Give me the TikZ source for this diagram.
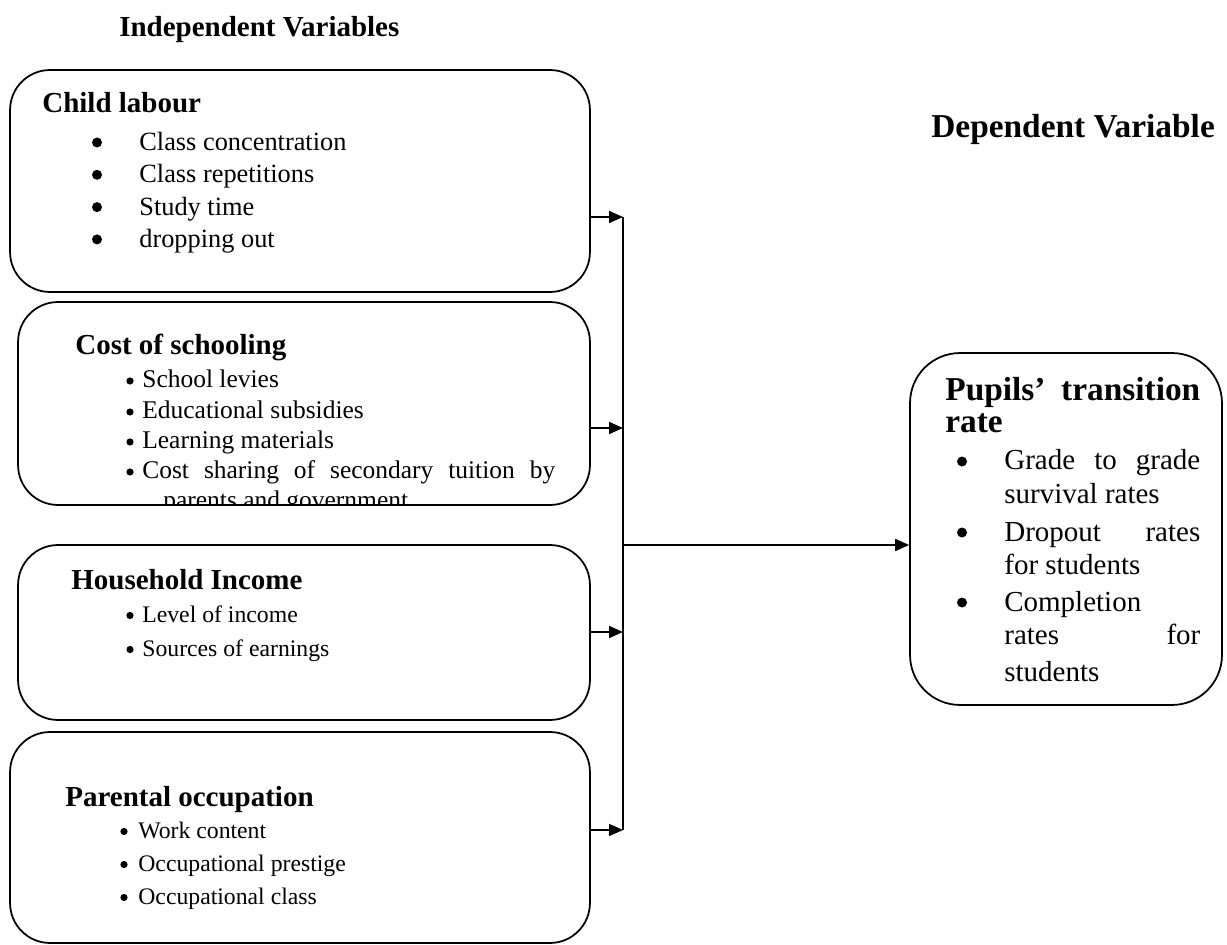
\documentclass[tikz,border=0pt]{standalone}
\usepackage{fontspec}
\setmainfont{Liberation Serif}
\usetikzlibrary{arrows.meta}

\begin{document}
\begin{tikzpicture}
[
  x=0.02cm,
  y=-0.02cm,
  varbox/.style={draw,line width=1pt,rounded corners=0.8cm,inner sep=0},
  title/.style={anchor=base west,inner sep=0,font=\fontsize{16.5}{20}\selectfont\bfseries},
  bigtitle/.style={anchor=base west,inner sep=0,font=\fontsize{19}{22}\selectfont\bfseries},
  head/.style={anchor=base west,inner sep=0,font=\fontsize{16.5}{19}\selectfont\bfseries},
  txt/.style={anchor=base west,inner sep=0,font=\fontsize{15}{18}\selectfont},
  midtxt/.style={anchor=base west,inner sep=0,font=\fontsize{14.5}{18}\selectfont},
  smalltxt/.style={anchor=base west,inner sep=0,font=\fontsize{13.5}{16}\selectfont},
  bigtxt/.style={anchor=base west,inner sep=0,font=\fontsize{16.5}{20}\selectfont},
  bigdot/.style={fill=black},
  feed/.style={line width=1pt,-{Triangle[length=0.28cm,width=0.24cm]}}
]

\useasboundingbox (0,0) rectangle (1227,945);

% titles
\node[title] (indep) at (119,37) {Independent Variables};
\node[bigtitle] (dep) at (931,138) {Dependent Variable};

% boxes
\node[varbox,minimum width=11.6cm,minimum height=4.44cm] (labour) at (300,181) {};
\node[varbox,minimum width=11.44cm,minimum height=4.06cm] (cost) at (304,403.5) {};
\node[varbox,minimum width=11.44cm,minimum height=3.5cm] (income) at (304,632.5) {};
\node[varbox,minimum width=11.6cm,minimum height=4.22cm] (parent) at (300,837.5) {};
\node[varbox,rounded corners=1cm,minimum width=6.24cm,minimum height=7.04cm] (rate) at (1066,529) {};

% child labour
\node[head] (labourhead) at (42,113) {Child labour};
\foreach \t [count=\i] in {Class concentration,Class repetitions,Study time,dropping out}
{
  \node[txt] (labour\i) at (139,{150.5+32.3*(\i-1)}) {\t};
  \fill[bigdot] ([xshift=-0.84cm,yshift=0.16cm]labour\i.base west) circle[radius=0.1cm];
}

% cost of schooling
\node[head] (costhead) at (75,355) {Cost of schooling};
\node[midtxt] (cost1) at (142,388) {School levies};
\node[midtxt] (cost2) at (142,419) {Educational subsidies};
\node[midtxt] (cost3) at (142,449) {Learning materials};
\node[midtxt] (cost4) at (142,479) {\makebox[8.26cm][s]{Cost sharing of secondary tuition by}};
\foreach \i in {1,...,4}
  \fill[bigdot] ([xshift=-0.24cm,yshift=0.14cm]cost\i.base west) circle[radius=0.072cm];
\begin{scope}
  \clip[rounded corners=0.8cm] (cost.south west) rectangle (cost.north east);
  \node[midtxt] (cost5) at (163,509) {parents and government};
\end{scope}

% household income
\node[head] (incomehead) at (71,589) {Household Income};
\foreach \t [count=\i] in {Level of income,Sources of earnings}
{
  \node[smalltxt] (income\i) at (142,{622+34*(\i-1)}) {\t};
  \fill[bigdot] ([xshift=-0.24cm,yshift=0.13cm]income\i.base west) circle[radius=0.072cm];
}

% parental occupation
\node[head] (parenthead) at (65,806) {Parental occupation};
\foreach \t [count=\i] in {Work content,Occupational prestige,Occupational class}
{
  \node[smalltxt] (parent\i) at (138,{838+33*(\i-1)}) {\t};
  \fill[bigdot] ([xshift=-0.28cm,yshift=0.13cm]parent\i.base west) circle[radius=0.072cm];
}

% transition rate
\node[bigtitle] (ratehead) at (945,401) {\makebox[5.1cm][s]{Pupils’ transition}};
\node[bigtitle] (ratehead2) at (945,433) {rate};
\node[bigtxt] (rate1) at (1004,470) {\makebox[3.92cm][s]{Grade to grade}};
\node[bigtxt] (rate1b) at (1004,503) {survival rates};
\node[bigtxt] (rate2) at (1004,541) {\makebox[3.92cm][s]{Dropout rates}};
\node[bigtxt] (rate2b) at (1004,574) {for students};
\node[bigtxt] (rate3) at (1004,611) {Completion};
\node[bigtxt] (rate3b) at (1004,644) {\makebox[3.92cm][s]{rates for}};
\node[bigtxt] (rate3c) at (1004,681) {students};
\foreach \i in {1,2,3}
  \fill[bigdot] ([xshift=-0.84cm,yshift=0.17cm]rate\i.base west) circle[radius=0.1cm];

% connectors
\coordinate (j1) at (623,217);
\coordinate (j2) at (623,428);
\coordinate (jm) at (623,545);
\coordinate (j3) at (623,632);
\coordinate (j4) at (623,830);
\draw[feed] (labour.east |- j1) -- (j1);
\draw[feed] (cost.east |- j2) -- (j2);
\draw[feed] (income.east |- j3) -- (j3);
\draw[feed] (parent.east |- j4) -- (j4);
\draw[line width=1pt] (j1) -- (j4);
\draw[feed] (jm) -- (rate.west |- jm);

\end{tikzpicture}
\end{document}
